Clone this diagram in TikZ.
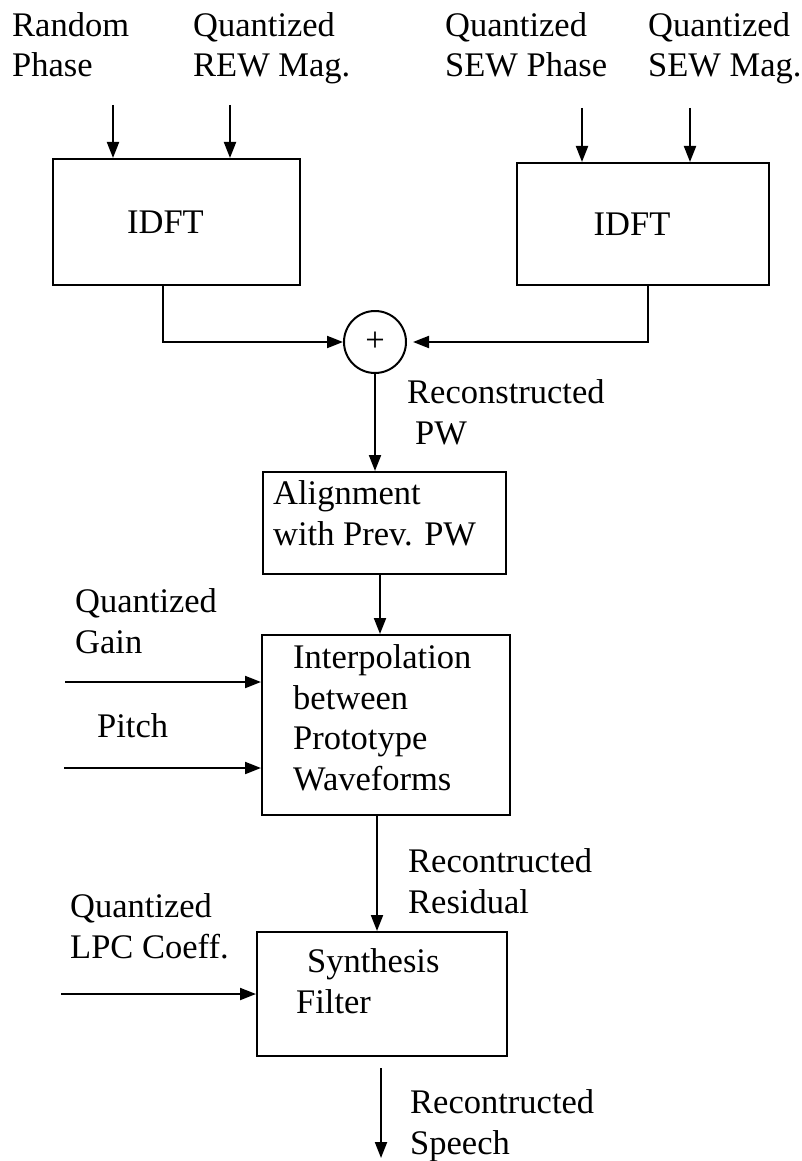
\documentclass[tikz,border=0pt]{standalone}
\usepackage{fontspec}
\setmainfont{Liberation Serif}
\usetikzlibrary{arrows.meta}

\begin{document}
\begin{tikzpicture}[x=1pt,y=-1pt,
    font=\fontsize{34.5}{40.5}\selectfont,
    blk/.style={draw,line width=2pt,inner sep=0pt},
    lbl/.style={anchor=base west,align=left,inner sep=0pt},
    sig/.style={line width=2pt,-{Triangle[length=16pt,width=12pt]}}]
    \useasboundingbox (0,0) rectangle (801,1161);

    \path (176.5,222) node [blk,minimum width=247pt,minimum height=126pt] (idft1) {\hspace{-22pt}IDFT};
    \path (643,224)   node [blk,minimum width=252pt,minimum height=122pt] (idft2) {\hspace{-22pt}IDFT};
    \path (375,342)   node [blk,circle,minimum size=62pt] (sum) {+};
    \path (384.5,523) node [blk,minimum width=243pt,minimum height=102pt] (align) {};
    \path (386,725)   node [blk,minimum width=248pt,minimum height=180pt] (interp) {};
    \path (382,994)   node [blk,minimum width=250pt,minimum height=124pt] (synth) {};

    \path (12,77)   node [lbl] (rp)  {Random\\Phase};
    \path (193,77)  node [lbl] (rm)  {Quantized\\REW Mag.};
    \path (445,77)  node [lbl] (sp)  {Quantized\\SEW Phase};
    \path (648,77)  node [lbl] (sm)  {Quantized\\SEW Mag.};
    \path (407,444) node [lbl] (rpw) {Reconstructed\\\hspace{8pt}PW};
    \path (273,545) node [lbl] (at)  {Alignment\\with Prev. PW};
    \path (75,653)  node [lbl] (qg)  {Quantized\\Gain};
    \path (97,737)  node [lbl] (pt)  {Pitch};
    \path (293,790) node [lbl] (it)  {Interpolation\\between\\Prototype\\Waveforms};
    \path (408,913) node [lbl] (rr)  {Recontructed\\Residual};
    \path (70,958)  node [lbl] (ql)  {Quantized\\LPC Coeff.};
    \path (296,1013) node [lbl] (st) {\hspace{11pt}Synthesis\\Filter};
    \path (410,1154) node [lbl] (rs) {Recontructed\\Speech};

    \coordinate (in1) at (113,105);
    \coordinate (in2) at (230,105);
    \coordinate (in3) at (582,108);
    \coordinate (in4) at (690,108);
    \coordinate (gin) at (65,682);
    \coordinate (pin) at (64,768);
    \coordinate (lin) at (61,994);
    \coordinate (out) at (381,1158);

    \draw [sig] (in1) -- (in1 |- idft1.north);
    \draw [sig] (in2) -- (in2 |- idft1.north);
    \draw [sig] (in3) -- (in3 |- idft2.north);
    \draw [sig] (in4) -- (in4 |- idft2.north);
    \draw [sig] ([xshift=-13.5pt]idft1.south) |- (sum.west);
    \draw [sig,shorten >=6pt] ([xshift=5pt]idft2.south) |- (sum.east);
    \draw [sig] (sum) -- (sum |- align.north);
    \draw [sig] ([xshift=-4.5pt]align.south) -- ([xshift=-4.5pt]align.south |- interp.north);
    \draw [sig] (gin) -- (gin -| interp.west);
    \draw [sig] (pin) -- (pin -| interp.west);
    \draw [sig] ([xshift=-9pt]interp.south) -- ([xshift=-9pt]interp.south |- synth.north);
    \draw [sig] (lin) -- (synth.west);
    \draw [sig,shorten <=11pt] (synth.south -| out) -- (out);
\end{tikzpicture}
\end{document}
